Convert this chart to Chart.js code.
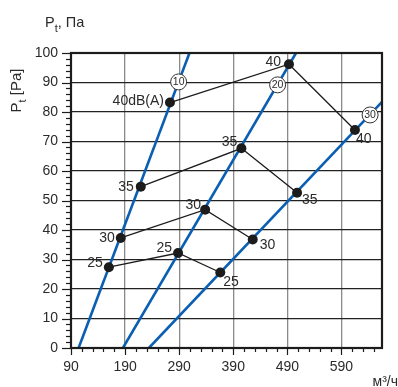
<!DOCTYPE html>
<html><head><meta charset="utf-8">
<script src="https://cdn.jsdelivr.net/npm/chart.js@4"></script>
<style>html,body{margin:0;padding:0;background:#fff;overflow:hidden}</style>
</head><body>
<canvas id="c" width="398" height="387" style="width:398px;height:387px;display:block"></canvas>
<script>
// ---- data ----
const curveNames = ['10', '20', '30'];
const curve10Flow = [104, 309];
const curve10Pressure = [0, 100];
const curve20Flow = [186, 506];
const curve20Pressure = [0, 100];
const curve30Flow = [234, 665];
const curve30Pressure = [0, 83.4];

const points10Flow = [160, 182, 219, 273];
const points10Pressure = [27.4, 37.3, 54.7, 83.2];
const points10Labels = ['25', '30', '35', '40dB(A)'];
const points20Flow = [288, 338, 405, 493];
const points20Pressure = [32.2, 46.9, 67.7, 96.2];
const points20Labels = ['25', '30', '35', '40'];
const points30Flow = [366, 426, 508, 615];
const points30Pressure = [25.6, 36.8, 52.6, 73.9];
const points30Labels = ['25', '30', '35', '40'];

const badgeFlow = [289, 472, 643];
const badgePressure = [90.2, 89.2, 79];

const xTickLabels = [90, 190, 290, 390, 490, 590];
const yTickLabels = [0, 10, 20, 30, 40, 50, 60, 70, 80, 90, 100];
const yTitleParts = ['P', 't', ' [Pa]'];
const topTitleParts = ['P', 't', ', Па'];
const xUnit = 'м³/ч';

// ---- styles / layout ----
const BLUE = '#0b5fb3';
const DARK = '#1c1c1c';
const TEXT = '#2b2b2b';
const FONT = '"Liberation Sans", Arial, Helvetica, sans-serif';
// label offsets [dx, dy] per point, and alignment per curve
const labelOffsets = [
  {align: 'right', off: [[-6, -4], [-6, 0], [-7, 1], [-6, -1]]},
  {align: 'right', off: [[-6, -5], [-4, -5], [-4, -6], [-8, -2]]},
  {align: 'left',  off: [[3, 10], [7, 6], [5, 7], [1, 9]]}
];

function xy(xs, ys) { return xs.map((v, i) => ({x: v, y: ys[i]})); }
const allPointFlows = [points10Flow, points20Flow, points30Flow];
const allPointPress = [points10Pressure, points20Pressure, points30Pressure];
const allPointLabels = [points10Labels, points20Labels, points30Labels];

const datasets = [];
[[curve10Flow, curve10Pressure], [curve20Flow, curve20Pressure], [curve30Flow, curve30Pressure]].forEach((c, i) => {
  datasets.push({
    label: 'curve ' + curveNames[i], data: xy(c[0], c[1]), showLine: true,
    borderColor: BLUE, borderWidth: 2.6, pointRadius: 0, order: 2, fill: false
  });
});
for (let k = 0; k < 4; k++) {
  datasets.push({
    label: 'iso ' + k,
    data: allPointFlows.map((f, j) => ({x: f[k], y: allPointPress[j][k]})),
    showLine: true, borderColor: DARK, borderWidth: 1.3,
    pointRadius: 5, pointBackgroundColor: DARK, pointBorderColor: DARK, pointBorderWidth: 0,
    order: 1, fill: false
  });
}

const isMajorX = v => xTickLabels.includes(v);
const isMajorY = v => yTickLabels.includes(v);

const decorPlugin = {
  id: 'decor',
  beforeDatasetsDraw(chart) {
    const {ctx, chartArea: a, scales: {x, y}} = chart;
    ctx.save();
    ctx.strokeStyle = DARK; ctx.lineWidth = 1.2;
    y.ticks.forEach(t => {
      const py = Math.round(y.getPixelForValue(t.value)) + 0.5;
      const len = isMajorY(t.value) ? 9 : 5;
      ctx.beginPath(); ctx.moveTo(a.left - len, py); ctx.lineTo(a.left, py); ctx.stroke();
    });
    x.ticks.forEach(t => {
      const px = Math.round(x.getPixelForValue(t.value)) + 0.5;
      const len = isMajorX(t.value) ? 7 : 4;
      ctx.beginPath(); ctx.moveTo(px, a.bottom); ctx.lineTo(px, a.bottom + len); ctx.stroke();
    });
    ctx.restore();
  },
  afterDatasetsDraw(chart) {
    const {ctx, chartArea: a, scales: {x, y}} = chart;
    ctx.save();
    // frame
    ctx.strokeStyle = DARK; ctx.lineWidth = 2.2;
    ctx.strokeRect(a.left, a.top, a.right - a.left, a.bottom - a.top);
    // point labels
    ctx.fillStyle = TEXT; ctx.font = '14px ' + FONT; ctx.textBaseline = 'middle';
    for (let j = 0; j < 3; j++) {
      ctx.textAlign = labelOffsets[j].align;
      for (let k = 0; k < 4; k++) {
        const px = x.getPixelForValue(allPointFlows[j][k]);
        const py = y.getPixelForValue(allPointPress[j][k]);
        const o = labelOffsets[j].off[k];
        ctx.fillText(allPointLabels[j][k], px + o[0], py + o[1]);
      }
    }
    // badges
    for (let i = 0; i < 3; i++) {
      const px = x.getPixelForValue(badgeFlow[i]);
      const py = y.getPixelForValue(badgePressure[i]);
      ctx.beginPath(); ctx.arc(px, py, 8, 0, Math.PI * 2);
      ctx.fillStyle = '#fff'; ctx.fill();
      ctx.strokeStyle = '#333'; ctx.lineWidth = 1; ctx.stroke();
      ctx.fillStyle = TEXT; ctx.font = '10.5px ' + FONT;
      ctx.textAlign = 'center'; ctx.textBaseline = 'middle';
      ctx.fillText(curveNames[i], px, py + 0.5);
    }
    // titles
    function subText(parts, size, subSize, subDrop) {
      ctx.font = size + 'px ' + FONT;
      const w0 = ctx.measureText(parts[0]).width;
      const w2 = ctx.measureText(parts[2]).width;
      ctx.font = subSize + 'px ' + FONT;
      const w1 = ctx.measureText(parts[1]).width;
      return {w: w0 + w1 + w2, draw(x0, base) {
        ctx.textAlign = 'left'; ctx.textBaseline = 'alphabetic';
        ctx.font = size + 'px ' + FONT; ctx.fillText(parts[0], x0, base);
        ctx.font = subSize + 'px ' + FONT; ctx.fillText(parts[1], x0 + w0, base + subDrop);
        ctx.font = size + 'px ' + FONT; ctx.fillText(parts[2], x0 + w0 + w1, base);
      }};
    }
    ctx.fillStyle = TEXT;
    const top = subText(topTitleParts, 14.5, 11, 5);
    top.draw(45, 26.7);
    ctx.save();
    ctx.translate(15.5, 90.5); ctx.rotate(-Math.PI / 2);
    const yt = subText(yTitleParts, 15, 11, 5);
    yt.draw(-yt.w / 2, 5.2);
    ctx.restore();
    ctx.font = '14px ' + FONT; ctx.textAlign = 'left'; ctx.textBaseline = 'alphabetic';
    ctx.fillText(xUnit, 372.5, 386);
    ctx.restore();
  }
};

new Chart(document.getElementById('c'), {
  type: 'scatter',
  data: {datasets},
  plugins: [decorPlugin],
  options: {
    responsive: false, animation: false, devicePixelRatio: 1,
    layout: {padding: {left: 0, top: 53, right: 16, bottom: 0}},
    plugins: {legend: {display: false}, tooltip: {enabled: false}},
    events: [],
    scales: {
      x: {
        type: 'linear', min: 90, max: 665,
        afterBuildTicks: s => { const t = []; for (let v = 90; v <= 650; v += 20) t.push({value: v}); s.ticks = t; },
        afterFit: s => { s.height = 39; },
        ticks: {autoSkip: false, maxRotation: 0, padding: 11, color: TEXT,
          font: {family: FONT, size: 14},
          callback: v => isMajorX(v) ? String(v) : ''},
        grid: {drawTicks: false, lineWidth: 1.3,
          color: c => (c.tick && isMajorX(c.tick.value)) ? '#8a8a8a' : 'rgba(0,0,0,0)'},
        border: {display: false}
      },
      y: {
        type: 'linear', min: 0, max: 100,
        afterBuildTicks: s => { const t = []; for (let v = 0; v <= 100; v += 2) t.push({value: v}); s.ticks = t; },
        afterFit: s => { s.width = 71; },
        ticks: {autoSkip: false, padding: 13, color: TEXT,
          font: {family: FONT, size: 14},
          callback: v => isMajorY(v) ? String(v) : ''},
        grid: {drawTicks: false, lineWidth: 1.2,
          color: c => (c.tick && isMajorY(c.tick.value)) ? '#222' : 'rgba(0,0,0,0)'},
        border: {display: false}
      }
    }
  }
});
</script>
</body></html>
